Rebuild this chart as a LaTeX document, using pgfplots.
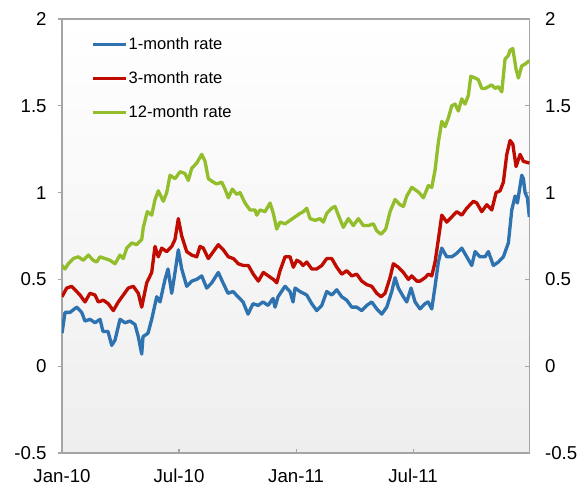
\documentclass[border=0pt]{standalone}
\usepackage{pgfplots}
\pgfplotsset{compat=1.18}
\usepackage{pgfplotstable}
\usepackage{fontspec}
\setmainfont{Liberation Sans}
\definecolor{cblue}{RGB}{46,114,176}
\definecolor{cred}{RGB}{192,12,0}
\definecolor{cgreen}{RGB}{146,190,44}
\definecolor{axgray}{RGB}{165,165,165}
% x given in chart position units (Jan-10 = 62, one month = 19.5)
\pgfplotstableread{
x y
62 0.19
65 0.31
70 0.31
76.7 0.34
81.7 0.31
85 0.26
90 0.27
95 0.25
100 0.27
103 0.20
108 0.20
111.7 0.12
115 0.15
120 0.27
125 0.25
130 0.26
135 0.24
138.3 0.17
141.7 0.07
143 0.17
148 0.19
151.7 0.27
156.7 0.40
160 0.37
165 0.50
168 0.56
171.7 0.42
175 0.54
178.3 0.67
181.7 0.56
186.7 0.46
191.7 0.49
196.7 0.50
201.7 0.52
206.7 0.45
211.7 0.48
218.3 0.54
223 0.48
228 0.42
233 0.43
238 0.40
243 0.37
248 0.30
253 0.36
258 0.35
263 0.37
268 0.35
273 0.39
275 0.34
278 0.40
285 0.46
290 0.43
293 0.37
295 0.45
300 0.43
306.7 0.41
311.7 0.36
316.7 0.32
321.7 0.35
326.7 0.43
331.7 0.41
336.7 0.44
341.7 0.40
346.7 0.38
351.7 0.34
356.7 0.34
361.7 0.32
366.7 0.35
371.7 0.37
376.7 0.33
381.7 0.30
386.7 0.34
391.7 0.43
395 0.51
398.3 0.45
403.3 0.40
406.7 0.37
411 0.45
415 0.37
420 0.33
425 0.36
428 0.37
431.7 0.33
435 0.46
438.3 0.60
441.7 0.68
446.7 0.63
451.7 0.63
456.7 0.65
461.7 0.68
466.7 0.63
471.7 0.58
475 0.66
480 0.63
485 0.63
488.3 0.66
493.3 0.58
498.3 0.60
503.3 0.63
508.3 0.71
511.7 0.90
515 0.98
517.3 0.94
521.7 1.10
523.3 1.08
525 1.00
527.3 0.97
529.3 0.86
}\onemonth
\pgfplotstableread{
x y
62 0.40
66.7 0.45
71.7 0.46
76.7 0.43
80 0.41
85 0.37
90 0.42
95 0.41
98.3 0.37
103.3 0.38
108.3 0.36
113.3 0.32
118.3 0.37
123.3 0.41
128.3 0.45
133.3 0.46
138.3 0.42
141.7 0.34
146.7 0.48
151.7 0.54
155 0.69
158.3 0.63
161.7 0.68
166.7 0.66
171.7 0.69
175 0.73
178.3 0.85
181.7 0.75
186.7 0.66
191.7 0.64
196.7 0.63
200 0.69
203.3 0.68
208.3 0.62
213.3 0.66
218.3 0.70
223.3 0.67
228.3 0.63
233.3 0.62
238.3 0.59
243.3 0.58
248.3 0.58
253.3 0.53
258.3 0.49
263.3 0.54
268.3 0.52
273.3 0.50
276.7 0.48
280 0.55
285 0.63
290 0.63
293.3 0.57
296.7 0.61
300 0.60
303 0.58
306.7 0.60
311.7 0.56
316.7 0.56
321.7 0.58
326.7 0.62
331.7 0.62
336.7 0.57
341.7 0.53
346.7 0.55
351.7 0.52
356.7 0.53
361.7 0.49
366.7 0.47
371.7 0.46
376.7 0.42
381 0.40
385 0.42
390 0.51
393.3 0.59
398.3 0.57
403.3 0.54
408.3 0.50
411.7 0.52
416.7 0.49
420 0.49
425 0.51
428.3 0.53
431.7 0.52
435 0.60
438.3 0.73
441.7 0.87
446.7 0.83
451.7 0.86
456.7 0.89
461.7 0.87
466.7 0.91
470 0.93
473.3 0.95
476.7 0.94
481.7 0.89
486.7 0.93
491.7 0.90
496 1.00
500 1.01
503.3 1.06
506.7 1.22
510 1.30
512.7 1.28
516 1.15
520 1.22
523.3 1.18
529.3 1.17
}\threemonth
\pgfplotstableread{
x y
62 0.58
65 0.56
68.3 0.59
73.3 0.62
78.3 0.63
83.3 0.61
88.3 0.64
93.3 0.61
96.7 0.60
100 0.63
105 0.62
110 0.61
115 0.59
120 0.64
123.3 0.62
126.7 0.68
131.7 0.71
136.7 0.70
141.7 0.73
143.3 0.80
147.3 0.89
151.7 0.87
155 0.96
158.3 1.01
163.3 0.95
166.7 1.00
170 1.10
175 1.08
180 1.12
185 1.11
188.3 1.07
191.7 1.14
196.7 1.17
201.7 1.22
205 1.18
208.3 1.08
213.3 1.06
216.7 1.05
221.7 1.06
225 1.02
228.3 0.97
232.3 1.02
236.7 0.99
240 1.00
245 0.94
250 0.90
255 0.90
256.7 0.87
260 0.90
265 0.89
270 0.94
273.3 0.88
276.7 0.79
280 0.83
285 0.82
290 0.84
295 0.86
300 0.88
303.3 0.89
306.7 0.91
310 0.85
315 0.84
320 0.85
323.3 0.83
326.7 0.88
331.7 0.91
335 0.92
338.3 0.87
343.3 0.80
348.3 0.85
353.3 0.81
358.3 0.85
363.3 0.81
368.3 0.81
373.3 0.82
376.7 0.78
381 0.76
385.7 0.79
390 0.89
395 0.96
400 0.93
403.3 0.92
406.7 0.98
411.7 1.03
416.7 1.01
419 1.00
423.3 0.97
428.3 1.04
431.7 1.03
435 1.13
438.3 1.29
441.7 1.41
445 1.38
448.3 1.43
451.7 1.50
455 1.51
458.3 1.47
461.7 1.54
465 1.51
468.3 1.56
470.7 1.67
475 1.66
478.3 1.65
481.7 1.60
485 1.60
488.3 1.61
491.7 1.62
495 1.60
498.3 1.61
501.7 1.58
505 1.77
508.3 1.79
510 1.82
512.7 1.83
516 1.71
518.3 1.66
521.7 1.73
525 1.74
529.3 1.76
}\twelvemonth
\begin{document}
\begin{tikzpicture}
\pgfplotsset{
  common/.style={
    scale only axis, width=350.625pt, height=325.5pt,
    xmin=0, xmax=23.97, ymin=-0.5, ymax=2,
    ytick={-0.5,0,0.5,1,1.5,2},
    yticklabels={-0.5,0,0.5,1,1.5,2},
    major tick length=3pt,
    tick style={draw=axgray, line width=0.8pt},
    tick label style={font=\fontsize{14}{16}\selectfont},
  }
}
\begin{axis}[common,
  axis background/.style={top color=white, bottom color={rgb,255:red,238;green,238;blue,238}},
  axis line style={draw=axgray, line width=0.8pt},
  tick align=inside,
  xtick={0,6,12,18},
  xticklabels={Jan-10,Jul-10,Jan-11,Jul-11},
  xtick pos=bottom,
  ytick pos=right, yticklabel pos=right,
  xticklabel style={yshift=-11.25pt, inner sep=0.8pt},
  yticklabel style={xshift=8.2pt},
  x filter/.expression={(x-62)/19.5},
  legend image code/.code={\draw[#1, line width=2.5pt] (0pt,0pt) -- (24.75pt,0pt);},
  legend cell align=left,
  legend style={at={(axis description cs:0,1)}, anchor=north west,
    xshift=21.75pt, yshift=-13pt, draw=none, fill=none, inner sep=0pt,
    row sep=13.25pt, font=\fontsize{12.4}{14}\selectfont,
    nodes={inner sep=0.8pt}},
]
\addplot[cblue, line width=2.5pt, line join=round] table {\onemonth};
\addplot[cred, line width=2.5pt, line join=round] table {\threemonth};
\addplot[cgreen, line width=2.5pt, line join=round] table {\twelvemonth};
\legend{1-month rate,3-month rate,12-month rate}
\coordinate (ll) at (rel axis cs:0,0);
\coordinate (ur) at (rel axis cs:1,1);
\end{axis}
\begin{axis}[common,
  hide x axis,
  axis line style={draw=none},
  tick align=outside,
  ytick pos=left, yticklabel pos=left,
  yticklabel style={xshift=-5pt},
]
\end{axis}
\pgfresetboundingbox
\useasboundingbox ([xshift=-46.5pt,yshift=-24.75pt]ll) rectangle ([xshift=37.875pt,yshift=14.25pt]ur);
\end{tikzpicture}
\end{document}
